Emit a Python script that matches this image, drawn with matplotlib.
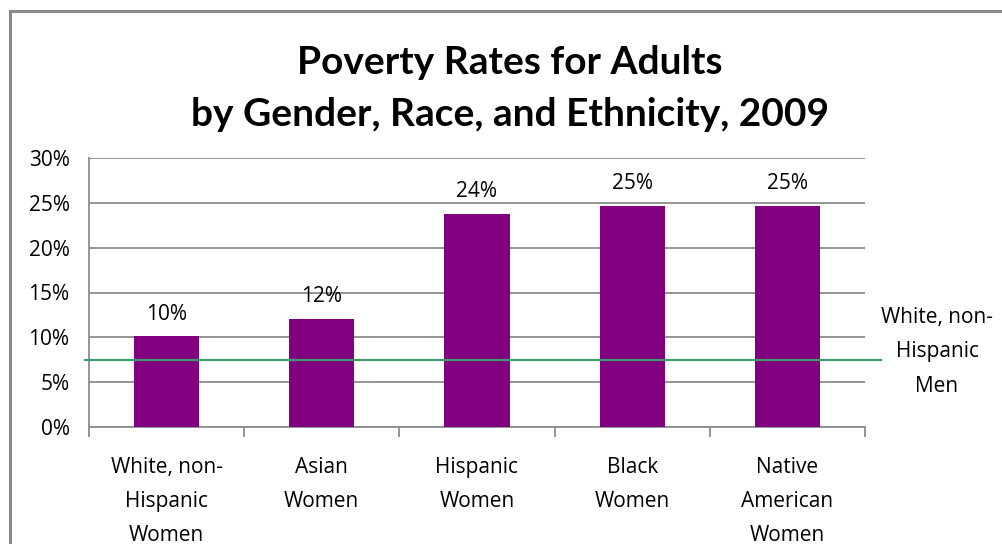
import matplotlib
matplotlib.use("Agg")
import matplotlib.pyplot as plt
from matplotlib.lines import Line2D
from matplotlib.patches import Rectangle

categories = ["White, non-\nHispanic\nWomen", "Asian\nWomen", "Hispanic\nWomen", "Black\nWomen", "Native\nAmerican\nWomen"]
values = [10.1, 12.05, 23.8, 24.7, 24.7]
labels = ["10%", "12%", "24%", "25%", "25%"]
men_rate = 7.5
yticks = [0, 5, 10, 15, 20, 25, 30]

plt.rcParams['font.family'] = ['Open Sans', 'DejaVu Sans']
FS = 15

W, H = 1003, 544
fig = plt.figure(figsize=(W/100, H/100), dpi=100)
ax = fig.add_axes([89/W, (H-427)/H, (865-89)/W, (427-158)/H])

x = list(range(len(categories)))
ax.bar(x, values, width=0.42, color="#800080", zorder=3)
for xi, v, lab in zip(x, values, labels):
    ax.text(xi, v + 1.3, lab, ha="center", va="bottom", fontsize=FS, color="black")

ax.set_xlim(-0.5, len(categories) - 0.5)
ax.set_ylim(0, 30)
ax.set_yticks(yticks)
ax.set_yticklabels([f"{t}%" for t in yticks], fontsize=FS)
ax.yaxis.grid(True, color="#8c8c8c", linewidth=1.3, zorder=0)
ax.set_axisbelow(True)
ax.tick_params(axis="y", length=0, pad=14)
ax.set_xticks([i - 0.5 for i in range(len(categories) + 1)], minor=False)
ax.set_xticklabels([])
ax.tick_params(axis="x", length=7, width=1.3, color="#8c8c8c", direction="out")
for i, c in enumerate(categories):
    ax.text(i, -3.35, c, ha="center", va="top", fontsize=FS, linespacing=1.8,
            transform=ax.transData)
for s in ["top", "right"]:
    ax.spines[s].set_visible(False)
for s in ["left", "bottom"]:
    ax.spines[s].set_color("#8c8c8c")
    ax.spines[s].set_linewidth(1.3)

# reference line for White, non-Hispanic Men
ymen = ax.transData.transform((0, men_rate))[1]
yfig = ymen / H
fig.add_artist(Line2D([85/W, 881/W], [yfig, yfig], color="#3f9a6e", linewidth=1.6,
                      transform=fig.transFigure, zorder=5))
fig.text(937/W, 1 - 352/H, "White, non-\nHispanic\nMen", ha="center", va="center",
         fontsize=FS, linespacing=1.85)

fig.text(510/W, 1 - 62/H, "Poverty Rates for Adults", ha="center", va="center",
         fontsize=28, fontweight="bold", family=['Lato', 'DejaVu Sans'])
fig.text(510/W, 1 - 114/H, "by Gender, Race, and Ethnicity, 2009", ha="center", va="center",
         fontsize=28, fontweight="bold", family=['Lato', 'DejaVu Sans'])

fig.add_artist(Rectangle((10/W, -0.1), 1.2, 1 - 11/H + 0.1, fill=False,
                         edgecolor="#8a8a8a", linewidth=2.2, transform=fig.transFigure))

fig.savefig("out.png", dpi=100)
